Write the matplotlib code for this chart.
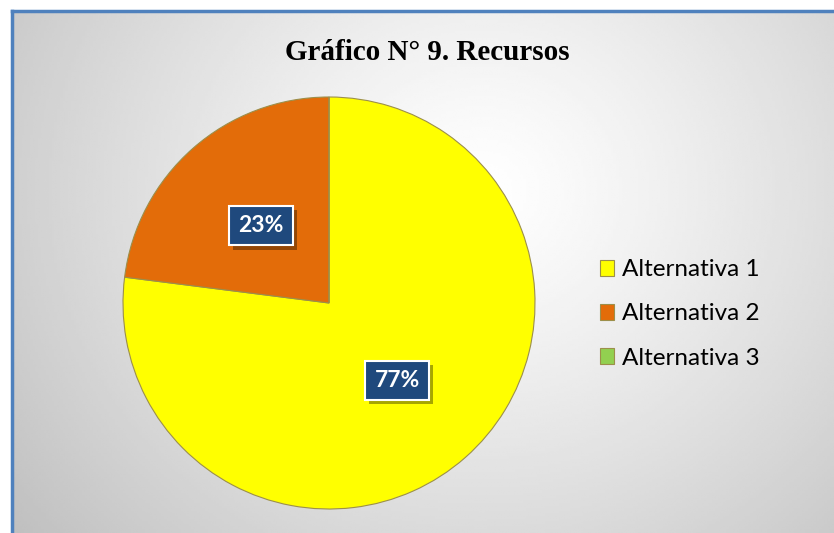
import numpy as np
import matplotlib
matplotlib.use("Agg")
import matplotlib.pyplot as plt
from matplotlib.patches import Patch
import matplotlib.patheffects as pe

# data
categories = ["Alternativa 1", "Alternativa 2", "Alternativa 3"]
values = [77, 23, 0]
pct_labels = ["77%", "23%", ""]
colors = ["#FFFF00", "#E36C09", "#92D050"]
title = "Gráfico N° 9. Recursos"

W, H = 834, 533
fig = plt.figure(figsize=(W / 100, H / 100), dpi=100)
fig.patch.set_facecolor("white")

# background panel with radial gradient
bg = fig.add_axes([12 / W, 0, 1 - 12 / W, (H - 11) / H])
ny, nx = 200, 300
yy, xx = np.mgrid[0:ny, 0:nx]
px = xx / nx * (W - 12) + 12
py = yy / ny * (H - 11) + 11
d = np.sqrt((px - 480) ** 2 + ((py - 190) * 1.1) ** 2)
v = np.clip(1.0 - 0.23 * (d / 560) ** 1.2, 0.75, 1.0)
bg.imshow(v, cmap="gray", vmin=0, vmax=1, aspect="auto",
          extent=[0, 1, 1, 0], interpolation="bilinear")
bg.set_xticks([])
bg.set_yticks([])
for s in ["right", "bottom"]:
    bg.spines[s].set_visible(False)
for s in ["left", "top"]:
    bg.spines[s].set_color("#4F81BD")
    bg.spines[s].set_linewidth(2.5)

fig.text(427 / W, 1 - 52 / H, title, ha="center", va="center",
         fontsize=21, fontweight="bold", family="Liberation Serif")

# pie
cx, cy, r = 329, 303, 206
ax = fig.add_axes([(cx - r) / W, (H - cy - r) / H, 2 * r / W, 2 * r / H])
ax.patch.set_visible(False)
wedges, _ = ax.pie(values, colors=colors, startangle=90, counterclock=False,
                   radius=1, wedgeprops=dict(edgecolor="#9C8F4A", linewidth=0.8))
ax.set_xlim(-1, 1)
ax.set_ylim(-1, 1)

for w, lab in zip(wedges, pct_labels):
    if not lab:
        continue
    ang = np.deg2rad((w.theta1 + w.theta2) / 2)
    x, y = 0.5 * np.cos(ang), 0.5 * np.sin(ang)
    t = ax.text(x, y, lab, ha="center", va="center", fontsize=16.5,
                fontweight="bold", family="Lato", color="white",
                bbox=dict(boxstyle="square,pad=0.4", fc="#1F497D", ec="white", lw=1.5))
    t.get_bbox_patch().set_path_effects(
        [pe.SimplePatchShadow(offset=(3, -3), shadow_rgbFace="black", alpha=0.35),
         pe.Normal()])

handles = [Patch(facecolor=c, edgecolor="#9C8F4A", linewidth=0.8) for c in colors]
fig.legend(handles, categories, loc="center left",
           bbox_to_anchor=(578 / W, 1 - 314 / H), frameon=False,
           prop=dict(family="Lato", size=17.5), handlelength=0.6,
           handleheight=0.6, handletextpad=0.3, labelspacing=0.95)

fig.savefig("out.png", dpi=100)
